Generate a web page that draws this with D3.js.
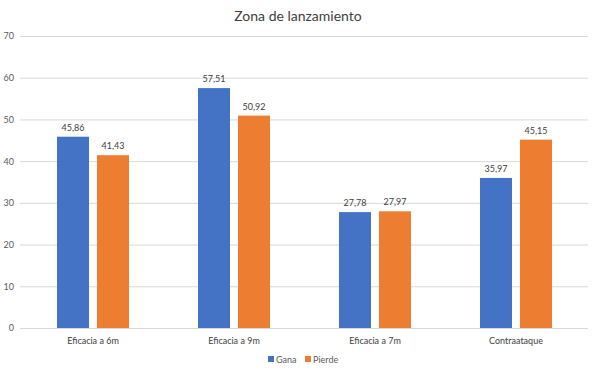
<!DOCTYPE html>
<html><head><meta charset="utf-8">
<script src="https://cdn.jsdelivr.net/npm/d3@7"></script>
<style>body{margin:0;background:#fff;}svg{display:block;font-family:Lato,"Open Sans",sans-serif;}</style>
</head><body>
<svg id="c" width="596" height="375"></svg>
<script>
const categories = ["Eficacia a 6m","Eficacia a 9m","Eficacia a 7m","Contraataque"];
const seriesNames = ["Gana","Pierde"];
const gana = [45.86,57.51,27.78,35.97];
const pierde = [41.43,50.92,27.97,45.15];
const yTicks = [0,10,20,30,40,50,60,70];
const colors = ["#4472C4","#ED7D31"];

const svg = d3.select("#c");
const GL=20,GR=588,T=36,B=328;
const x = d3.scaleBand().domain(categories).range([22.5,586.5]).paddingInner(0).paddingOuter(0);
const x1 = d3.scaleBand().domain(seriesNames).range([0,72]).paddingInner(0.2);
const y = d3.scaleLinear().domain([0,70]).range([B,T]);

svg.append("text").attr("x",298).attr("y",21).attr("text-anchor","middle")
  .attr("font-size",14).attr("fill","#404040").text("Zona de lanzamiento");

const ya = svg.append("g").attr("transform",`translate(${GL},0)`)
  .call(d3.axisLeft(y).tickValues(yTicks).tickSize(-(GR-GL)).tickFormat(d3.format("d")));
ya.select(".domain").remove();
ya.selectAll(".tick line").attr("stroke","#d9d9d9");
ya.selectAll(".tick text").attr("x",-6).attr("font-size",9).attr("fill","#595959").attr("font-family","Lato,sans-serif");

const xa = svg.append("g").attr("transform",`translate(0,${B})`)
  .call(d3.axisBottom(x).tickSize(0).tickPadding(10));
xa.select(".domain").remove();
xa.selectAll(".tick text").attr("font-size",9).attr("fill","#404040").attr("font-family","Lato,sans-serif");

const data = categories.map((c,i)=>({c,vals:[gana[i],pierde[i]]}));
const g = svg.append("g");
const fmt = v => d3.format(".2f")(v).replace(".",",");
data.forEach(d=>{
  const x0 = x(d.c) + (x.bandwidth()-72)/2;
  d.vals.forEach((v,j)=>{
    const s = seriesNames[j];
    g.append("rect").attr("x",x0+x1(s)).attr("y",y(v)).attr("width",x1.bandwidth())
      .attr("height",B-y(v)).attr("fill",colors[j]);
    g.append("text").attr("x",x0+x1(s)+x1.bandwidth()/2).attr("y",y(v)-6)
      .attr("text-anchor","middle").attr("font-size",9).attr("fill","#404040").text(fmt(v));
  });
});

const lg = svg.append("g");
const lx=[268,305];
seriesNames.forEach((s,j)=>{
  lg.append("rect").attr("x",lx[j]).attr("y",356).attr("width",6).attr("height",6).attr("fill",colors[j]);
  lg.append("text").attr("x",lx[j]+8).attr("y",362.5).attr("font-size",9).attr("fill","#595959").text(s);
});
</script>
</body></html>
